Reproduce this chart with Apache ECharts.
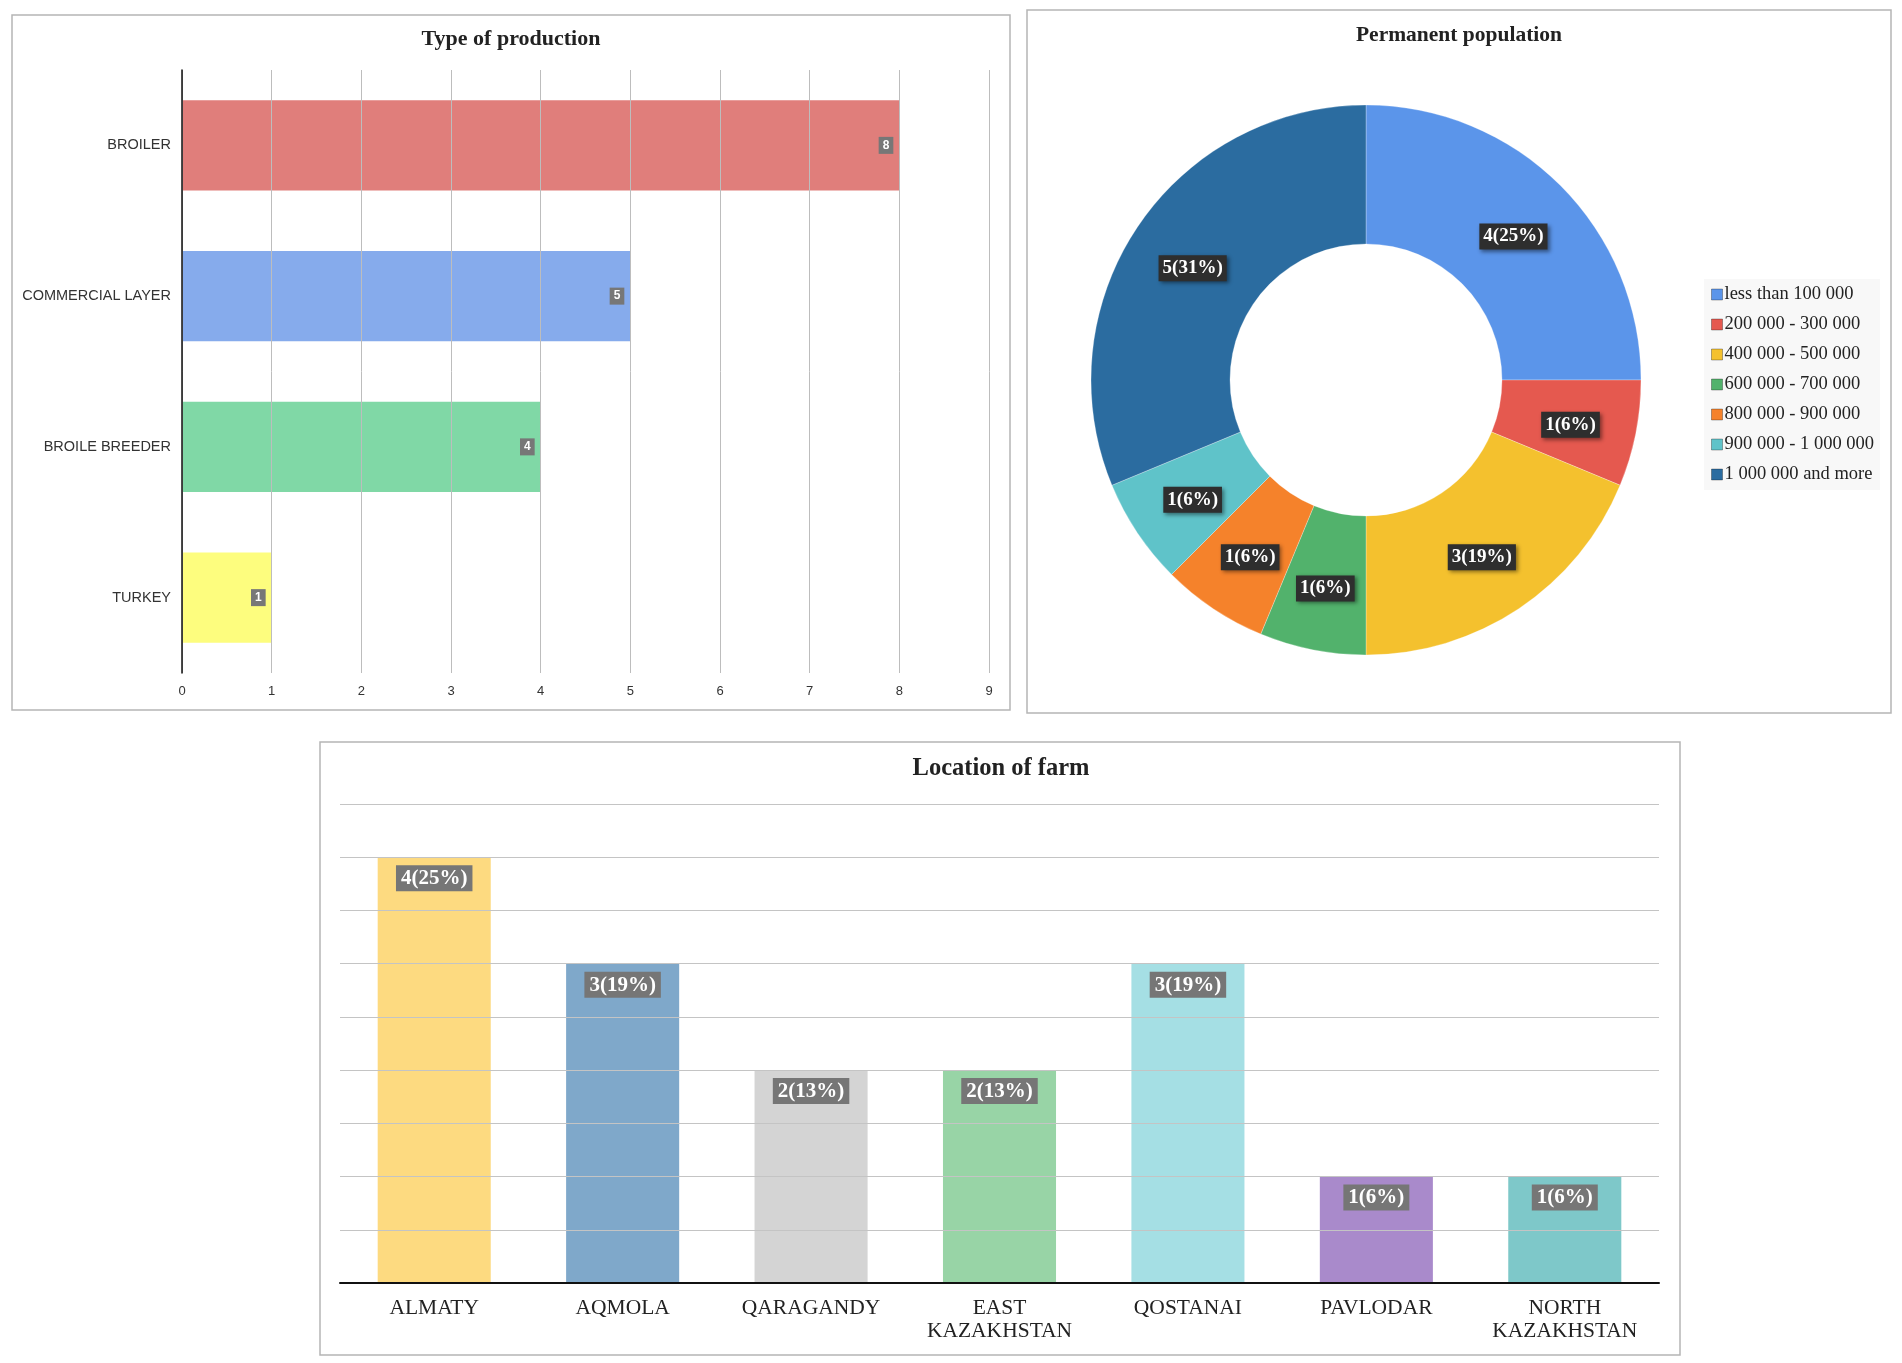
<!DOCTYPE html>
<html><head><meta charset="utf-8">
<script src="https://cdn.jsdelivr.net/npm/echarts@6/dist/echarts.min.js"></script>
<style>html,body{margin:0;padding:0;background:#fff}#c{width:1902px;height:1363px}</style>
</head><body><div id="c"></div>
<script>
// Chart 1: Type of production
var prodCategories = ['BROILER', 'COMMERCIAL LAYER', 'BROILE BREEDER', 'TURKEY'];
var prodValues = [8, 5, 4, 1];
var prodColors = ['#E07E7B', '#86ABEC', '#80D8A6', '#FDFD7E'];
var prodTicks = [0, 1, 2, 3, 4, 5, 6, 7, 8, 9];

// Chart 2: Permanent population
var popCategories = ['less than 100 000', '200 000 - 300 000', '400 000 - 500 000', '600 000 - 700 000', '800 000 - 900 000', '900 000 - 1 000 000', '1 000 000 and more'];
var popValues = [4, 1, 3, 1, 1, 1, 5];
var popColors = ['#5B95EA', '#E5594F', '#F4C12E', '#52B26C', '#F5822B', '#5FC3C9', '#2B6CA0'];

// Chart 3: Location of farm
var locCategories = ['ALMATY', 'AQMOLA', 'QARAGANDY', 'EAST\nKAZAKHSTAN', 'QOSTANAI', 'PAVLODAR', 'NORTH\nKAZAKHSTAN'];
var locValues = [4, 3, 2, 2, 3, 1, 1];
var locColors = ['#FDDA80', '#7FA8CA', '#D4D4D4', '#98D4A6', '#A5DFE4', '#A98ACB', '#7EC8C9'];

function sum(a){return a.reduce(function(s,v){return s+v;},0);}
var popTotal = sum(popValues), locTotal = sum(locValues);

var serif = '"Liberation Serif", "Times New Roman", serif';
var sans = '"Liberation Sans", Arial, sans-serif';

var chart = echarts.init(document.getElementById('c'));
chart.setOption({
  animation: false,
  backgroundColor: '#fff',
  graphic: [
    {type:'rect', shape:{x:12,y:15,width:998,height:695}, style:{fill:'none', stroke:'#b5b5b5', lineWidth:1.5}, z:-10},
    {type:'rect', shape:{x:1027,y:10,width:864,height:703}, style:{fill:'none', stroke:'#b5b5b5', lineWidth:1.5}, z:-10},
    {type:'rect', shape:{x:320,y:742,width:1360,height:613}, style:{fill:'none', stroke:'#b5b5b5', lineWidth:1.5}, z:-10}
  ],
  title: [
    {text:'Type of production', left:506, top:34, textAlign:'center', textVerticalAlign:'middle',
     textStyle:{fontFamily:serif, fontWeight:'bold', fontSize:22, color:'#222'}},
    {text:'Permanent population', left:1454, top:30, textAlign:'center', textVerticalAlign:'middle',
     textStyle:{fontFamily:serif, fontWeight:'bold', fontSize:21.5, color:'#222'}},
    {text:'Location of farm', left:996, top:764, textAlign:'center', textVerticalAlign:'middle',
     textStyle:{fontFamily:serif, fontWeight:'bold', fontSize:24.5, color:'#222'}}
  ],
  legend: {
    data: popCategories, orient:'vertical', left:1704, top:279,
    backgroundColor:'#f8f8f8', padding:[6,6,6,7],
    itemWidth:11, itemHeight:11, itemGap:11, icon:'rect',
    itemStyle:{borderColor:'rgba(0,0,0,0.3)', borderWidth:1},
    textStyle:{fontFamily:serif, fontSize:18.5, color:'#222', lineHeight:19, padding:[0,0,0,-3]}
  },
  grid: [
    {left:182, top:70, width:807, height:603},
    {left:340, top:804, width:1319, height:479}
  ],
  xAxis: [
    {type:'value', gridIndex:0, min:0, max:9, interval:1, z:3,
     axisLine:{show:false}, axisTick:{show:false},
     axisLabel:{fontFamily:sans, fontSize:13, color:'#333', margin:12,
       formatter:function(v){return prodTicks.indexOf(v)>=0 ? String(v) : '';}},
     splitLine:{show:true, lineStyle:{color:'#bdbdbd', width:1}}},
    {type:'category', gridIndex:1, data:locCategories, z:3,
     axisLine:{show:true, lineStyle:{color:'#111', width:2}}, axisTick:{show:false},
     axisLabel:{fontFamily:serif, fontSize:21.5, color:'#222', margin:14, lineHeight:23, interval:0}}
  ],
  yAxis: [
    {type:'category', gridIndex:0, data:prodCategories, inverse:true, z:3,
     axisLine:{show:true, lineStyle:{color:'#111', width:1.5}}, axisTick:{show:false},
     axisLabel:{fontFamily:sans, fontSize:14.5, color:'#333', margin:11}},
    {type:'value', gridIndex:1, min:0, max:4.5, interval:0.5, z:3,
     axisLine:{show:false}, axisTick:{show:false}, axisLabel:{show:false},
     splitLine:{show:true, lineStyle:{color:'#c4c4c4', width:1.2}}}
  ],
  series: [
    {type:'bar', xAxisIndex:0, yAxisIndex:0, barCategoryGap:'40%',
     data: prodValues.map(function(v,i){return {value:v, itemStyle:{color:prodColors[i]}};}),
     label:{show:true, position:'insideRight', distance:6, color:'#fff', fontFamily:sans, fontWeight:'bold',
       fontSize:12, backgroundColor:'#777', padding:[3,4,2,4]}},
    {type:'pie', center:[1366,380], radius:[136,275], startAngle:90, clockwise:true,
     data: popValues.map(function(v,i){return {name:popCategories[i], value:v, itemStyle:{color:popColors[i]}};}),
     itemStyle:{borderColor:'rgba(255,255,255,0.35)', borderWidth:0.8},
     label:{show:true, position:'inside', color:'#fff', fontFamily:serif, fontWeight:'bold', fontSize:19,
       backgroundColor:'#2e2e2e', padding:[4,4,3,4], shadowBlur:4, shadowColor:'rgba(0,0,0,0.45)', shadowOffsetX:2, shadowOffsetY:2,
       offset:[0,4],
       formatter:function(p){return p.value + '(' + Math.round(p.value/popTotal*100) + '%)';}},
     labelLine:{show:false}, emphasis:{disabled:true}},
    {type:'bar', xAxisIndex:1, yAxisIndex:1, barCategoryGap:'40%',
     data: locValues.map(function(v,i){return {value:v, itemStyle:{color:locColors[i]}};}),
     label:{show:true, position:'insideTop', distance:8, color:'#fff', fontFamily:serif, fontWeight:'bold', fontSize:21,
       backgroundColor:'#767676', padding:[3,5,2,5],
       formatter:function(p){return p.value + '(' + Math.round(p.value/locTotal*100) + '%)';}}}
  ]
});
</script></body></html>
